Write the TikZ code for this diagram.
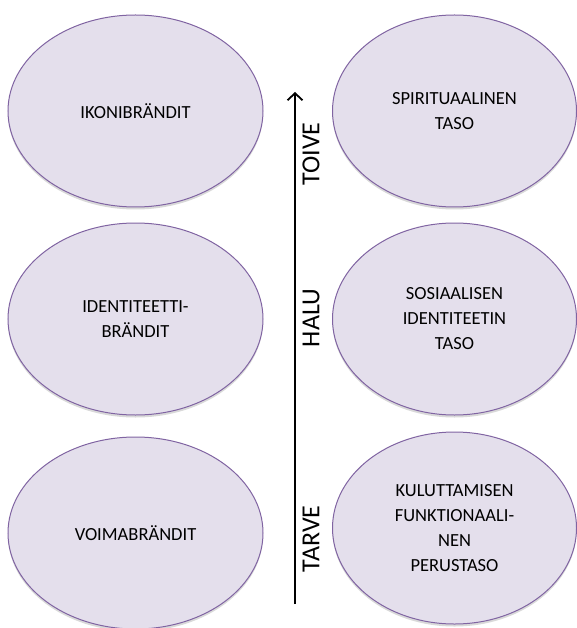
\documentclass[tikz,border=0pt]{standalone}
\usepackage{fontspec}
\setmainfont{Carlito}
\usetikzlibrary{shapes.geometric,arrows.meta,shadows}
\definecolor{ellfill}{HTML}{E4DFEC}
\definecolor{elldraw}{HTML}{8064A2}
\tikzset{
  oval/.style={ellipse, draw=elldraw, fill=ellfill, line width=1pt,
    inner sep=0pt, minimum height=192pt, align=center,
    font=\fontsize{18.5}{25}\selectfont,
    drop shadow={shadow xshift=0pt, shadow yshift=-2.5pt, opacity=0.25, fill=black!60}},
  leftoval/.style={oval, minimum width=255pt},
  rightoval/.style={oval, minimum width=244pt},
  axislabel/.style={rotate=90, font=\fontsize{26}{30}\selectfont, inner sep=0pt},
  axisarrow/.style={line width=1.8pt, -{Straight Barb[length=7pt,width=15pt,line width=1.8pt]}}
}
\begin{document}
\begin{tikzpicture}[x=1pt,y=-1pt]
\useasboundingbox (0,0) rectangle (577,628);
\node[leftoval] (ikoni) at (135.5,111) {IKONIBRÄNDIT};
\node[leftoval] (ident) at (135.5,319) {IDENTITEETTI-\\BRÄNDIT};
\node[leftoval] (voima) at (135.5,533) {VOIMABRÄNDIT};
\node[rightoval] (spirit) at (454.5,111) {SPIRITUAALINEN\\TASO};
\node[rightoval] (sosiaal) at (454.5,319) {SOSIAALISEN\\IDENTITEETIN\\TASO};
\node[rightoval] (kulut) at (454.5,528) {KULUTTAMISEN\\FUNKTIONAALI-\\NEN\\PERUSTASO};
\coordinate (abot) at (295,604);
\coordinate (atop) at (295,92);
\draw[axisarrow] (abot) -- (atop);
\node[axislabel] (toive) at (311,154) {TOIVE};
\node[axislabel] (halu) at (311,318) {HALU};
\node[axislabel] (tarve) at (311,539) {TARVE};
\end{tikzpicture}
\end{document}
